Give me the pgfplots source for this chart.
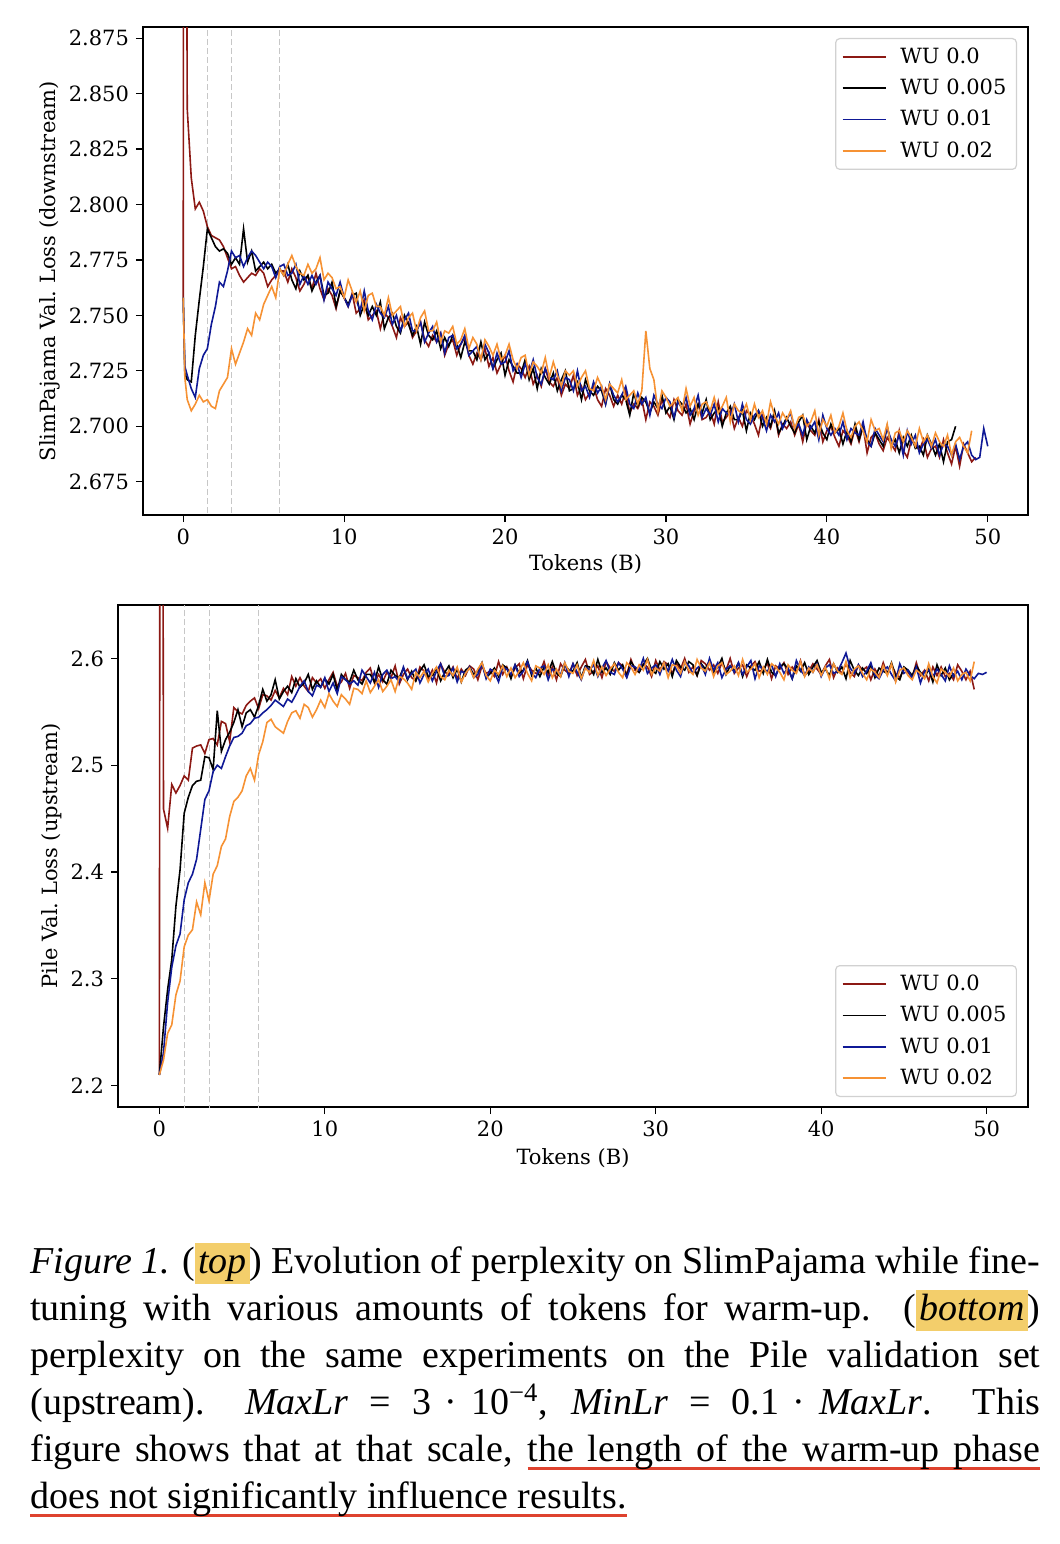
\documentclass[border=0pt]{standalone}
\usepackage{fontspec}
\setmainfont{Liberation Serif}
\newfontfamily\dvs{DejaVu Serif}
\usepackage{xcolor}
\usepackage{pgfplots}
\usepackage{pgfplotstable}
\pgfplotsset{compat=1.18}

\definecolor{wured}{RGB}{140,25,20}
\definecolor{wublue}{RGB}{15,25,150}
\definecolor{wuorange}{RGB}{246,146,52}
\definecolor{hly}{RGB}{243,206,107}
\definecolor{ulred}{RGB}{222,66,46}

\newcommand\cf{\dvs\fontsize{10.5pt}{12.6pt}\selectfont}
\newcommand\hlbox[1]{{\setlength{\fboxsep}{0pt}\colorbox{hly}{\rule[-5.5pt]{0pt}{20.5pt}\hspace{1.5pt}#1\hspace{1.5pt}}}}
\newcommand\ulw[1]{\leavevmode\setbox0\hbox{#1}\rlap{\color{ulred}\rule[-4.6pt]{\wd0}{1.6pt}}\box0}
\newcommand\uls{{\color{ulred}\leaders\hrule height -3pt depth 4.6pt\hskip\fontdimen2\font plus\fontdimen3\font minus\fontdimen4\font}}
\newcommand\eqsp{\nobreak\hspace{0.28em plus 0.12em minus 0.05em}\nobreak}
\newcommand\dotsp{\nobreak\hspace{0.22em plus 0.06em}\nobreak}

\pgfplotstableread{
x r k b o
0 2.758 2.758 2.758 2.758
0.02 2.950 nan nan nan
0.1 nan 2.724 2.727 2.722
0.2 2.950 nan nan nan
0.25 2.843 2.721 2.723 2.712
0.5 2.812 2.720 2.717 2.707
0.75 2.798 2.741 2.713 2.710
1 2.801 2.757 2.726 2.714
1.25 2.797 2.772 2.732 2.711
1.5 2.790 2.789 2.735 2.712
1.75 2.786 2.785 2.746 2.709
2 2.785 2.781 2.754 2.708
2.25 2.784 2.779 2.765 2.716
2.5 2.781 2.780 2.763 2.719
2.75 2.776 2.778 2.770 2.722
3 2.771 2.773 2.779 2.735
3.25 2.772 2.776 2.776 2.728
3.5 2.768 2.773 2.777 2.733
3.75 2.765 2.789 2.772 2.738
4 2.767 2.774 2.776 2.744
4.25 2.769 2.779 2.779 2.741
4.5 2.768 2.770 2.777 2.751
4.75 2.771 2.772 2.774 2.748
5 2.769 2.774 2.771 2.755
5.25 2.763 2.771 2.774 2.759
5.5 2.766 2.773 2.772 2.763
5.75 2.768 2.769 2.767 2.758
6 2.770 2.771 2.772 2.771
6.25 2.770 2.768 2.773 2.768
6.5 2.765 2.773 2.768 2.773
6.75 2.771 2.766 2.769 2.777
7 2.767 2.762 2.773 2.772
7.25 2.761 2.770 2.764 2.769
7.5 2.764 2.766 2.768 2.768
7.75 2.768 2.768 2.764 2.773
8 2.762 2.761 2.768 2.769
8.25 2.769 2.765 2.764 2.771
8.5 2.762 2.768 2.768 2.776
8.75 2.757 2.759 2.757 2.766
9 2.762 2.760 2.765 2.769
9.25 2.759 2.765 2.762 2.767
9.5 2.753 2.754 2.759 2.762
9.75 2.761 2.761 2.765 2.763
10 2.758 2.758 2.758 2.758
10.25 2.754 2.755 2.754 2.766
10.5 2.760 2.759 2.759 2.761
10.75 2.751 2.760 2.757 2.756
11 2.753 2.750 2.752 2.761
11.25 2.757 2.755 2.761 2.752
11.5 2.748 2.750 2.752 2.759
11.75 2.750 2.754 2.748 2.760
12 2.752 2.750 2.755 2.754
12.25 2.744 2.756 2.751 2.754
12.5 2.751 2.744 2.749 2.750
12.75 2.749 2.749 2.754 2.758
13 2.745 2.751 2.746 2.750
13.25 2.740 2.745 2.750 2.752
13.5 2.749 2.742 2.743 2.754
13.75 2.745 2.750 2.748 2.745
14 2.747 2.746 2.751 2.749
14.25 2.740 2.741 2.743 2.751
14.5 2.743 2.745 2.743 2.743
14.75 2.747 2.737 2.747 2.749
15 2.739 2.747 2.738 2.752
15.25 2.736 2.741 2.742 2.743
15.5 2.741 2.739 2.745 2.743
15.75 2.738 2.743 2.738 2.747
16 2.742 2.735 2.742 2.738
16.25 2.732 2.740 2.733 2.743
16.5 2.737 2.736 2.740 2.742
16.75 2.739 2.741 2.741 2.745
17 2.732 2.737 2.735 2.737
17.25 2.737 2.731 2.737 2.739
17.5 2.740 2.738 2.741 2.744
17.75 2.732 2.734 2.732 2.735
18 2.728 2.734 2.734 2.740
18.25 2.733 2.730 2.736 2.737
18.5 2.730 2.738 2.730 2.730
18.75 2.735 2.730 2.737 2.739
19 2.727 2.733 2.733 2.736
19.25 2.731 2.726 2.726 2.732
19.5 2.724 2.730 2.733 2.737
19.75 2.728 2.733 2.728 2.730
20 2.732 2.723 2.729 2.732
20.25 2.725 2.730 2.734 2.737
20.5 2.720 2.727 2.725 2.730
20.75 2.728 2.724 2.728 2.726
21 2.726 2.724 2.722 2.731
21.25 2.722 2.730 2.728 2.732
21.5 2.727 2.721 2.724 2.723
21.75 2.719 2.726 2.730 2.729
22 2.723 2.717 2.722 2.727
22.25 2.718 2.726 2.719 2.724
22.5 2.726 2.722 2.726 2.731
22.75 2.720 2.719 2.722 2.722
23 2.718 2.724 2.721 2.729
23.25 2.722 2.716 2.725 2.723
23.5 2.714 2.721 2.716 2.718
23.75 2.719 2.725 2.722 2.725
24 2.717 2.716 2.721 2.723
24.25 2.723 2.717 2.716 2.725
24.5 2.714 2.720 2.725 2.718
24.75 2.718 2.712 2.716 2.722
25 2.712 2.721 2.718 2.725
25.25 2.715 2.716 2.713 2.717
25.5 2.718 2.714 2.720 2.716
25.75 2.712 2.718 2.715 2.722
26 2.709 2.716 2.718 2.718
26.25 2.717 2.710 2.710 2.712
26.5 2.714 2.719 2.719 2.719
26.75 2.709 2.712 2.714 2.717
27 2.714 2.710 2.711 2.715
27.25 2.710 2.714 2.714 2.721
27.5 2.716 2.712 2.718 2.712
27.75 2.706 2.705 2.710 2.714
28 2.710 2.715 2.708 2.716
28.25 2.708 2.709 2.715 2.710
28.5 2.712 2.713 2.710 2.716
28.75 2.703 2.711 2.713 2.743
29 2.711 2.706 2.705 2.726
29.25 2.709 2.711 2.714 2.721
29.5 2.705 2.708 2.710 2.707
29.75 2.712 2.714 2.708 2.716
30 2.707 2.706 2.713 2.713
30.25 2.704 2.709 2.711 2.709
30.5 2.712 2.703 2.704 2.711
30.75 2.707 2.712 2.711 2.713
31 2.705 2.710 2.708 2.707
31.25 2.710 2.706 2.713 2.717
31.5 2.701 2.708 2.705 2.709
31.75 2.707 2.703 2.708 2.713
32 2.710 2.710 2.714 2.705
32.25 2.703 2.706 2.704 2.710
32.5 2.704 2.712 2.708 2.711
32.75 2.707 2.703 2.705 2.707
33 2.701 2.706 2.710 2.713
33.25 2.711 2.708 2.702 2.706
33.5 2.702 2.700 2.708 2.709
33.75 2.704 2.706 2.706 2.713
34 2.707 2.709 2.705 2.702
34.25 2.699 2.703 2.710 2.710
34.5 2.704 2.703 2.702 2.707
34.75 2.700 2.707 2.710 2.706
35 2.707 2.698 2.703 2.710
35.25 2.705 2.706 2.701 2.703
35.5 2.701 2.703 2.705 2.710
35.75 2.696 2.707 2.707 2.704
36 2.705 2.700 2.704 2.707
36.25 2.702 2.704 2.698 2.701
36.5 2.699 2.700 2.705 2.711
36.75 2.706 2.707 2.702 2.705
37 2.696 2.697 2.706 2.701
37.25 2.701 2.700 2.699 2.706
37.5 2.699 2.704 2.703 2.703
37.75 2.702 2.700 2.706 2.707
38 2.696 2.697 2.699 2.699
38.25 2.701 2.702 2.701 2.704
38.5 2.693 2.705 2.696 2.705
38.75 2.702 2.694 2.703 2.700
39 2.698 2.700 2.699 2.702
39.25 2.696 2.697 2.702 2.707
39.5 2.703 2.702 2.694 2.696
39.75 2.693 2.697 2.705 2.703
40 2.698 2.694 2.699 2.700
40.25 2.700 2.701 2.696 2.705
40.5 2.695 2.697 2.699 2.697
40.75 2.691 2.699 2.696 2.700
41 2.698 2.692 2.702 2.706
41.25 2.696 2.698 2.694 2.698
41.5 2.692 2.693 2.699 2.695
41.75 2.699 2.701 2.697 2.700
42 2.693 2.694 2.696 2.702
42.25 2.700 2.700 2.702 2.698
42.5 2.688 2.694 2.693 2.693
42.75 2.695 2.691 2.691 2.703
43 2.697 2.697 2.699 2.698
43.25 2.692 2.694 2.696 2.699
43.5 2.689 2.691 2.693 2.694
43.75 2.695 2.700 2.699 2.701
44 2.692 2.691 2.694 2.690
44.25 2.689 2.694 2.691 2.697
44.5 2.698 2.688 2.696 2.698
44.75 2.689 2.695 2.687 2.693
45 2.686 2.691 2.698 2.698
45.25 2.694 2.696 2.692 2.695
45.5 2.692 2.690 2.696 2.691
45.75 2.689 2.691 2.688 2.699
46 2.694 2.687 2.692 2.693
46.25 2.686 2.696 2.694 2.696
46.5 2.690 2.692 2.690 2.691
46.75 2.691 2.687 2.694 2.697
47 2.686 2.692 2.687 2.693
47.25 2.694 2.684 2.692 2.691
47.5 2.688 2.693 2.691 2.696
47.75 2.683 2.694 2.687 2.687
48 2.691 2.700 2.692 2.693
48.25 2.682 nan 2.685 2.695
48.5 2.692 nan 2.691 2.691
48.75 2.688 nan 2.693 2.688
49 2.684 nan 2.687 2.698
49.25 2.686 nan 2.685 nan
49.5 nan nan 2.686 nan
49.75 nan nan 2.699 nan
50 nan nan 2.691 nan
}\toptab

\pgfplotstableread{
x r k b o
0 2.210 2.210 2.210 2.210
0.04 2.900 nan nan nan
0.2 2.900 nan nan nan
0.25 2.459 2.255 2.231 2.224
0.5 2.441 2.290 2.278 2.249
0.75 2.482 2.318 2.311 2.257
1 2.474 2.368 2.331 2.285
1.25 2.481 2.402 2.342 2.298
1.5 2.490 2.455 2.374 2.330
1.75 2.486 2.470 2.390 2.341
2 2.516 2.481 2.398 2.346
2.25 2.518 2.485 2.412 2.372
2.5 2.519 2.486 2.440 2.360
2.75 2.511 2.508 2.468 2.390
3 2.524 2.507 2.476 2.373
3.25 2.525 2.496 2.494 2.398
3.5 2.519 2.551 2.500 2.406
3.75 2.541 2.513 2.497 2.424
4 2.539 2.524 2.508 2.431
4.25 2.522 2.531 2.518 2.452
4.5 2.554 2.540 2.526 2.466
4.75 2.550 2.552 2.527 2.470
5 2.548 2.536 2.530 2.476
5.25 2.556 2.549 2.537 2.490
5.5 2.560 2.552 2.539 2.497
5.75 2.563 2.545 2.544 2.486
6 2.553 2.556 2.545 2.510
6.25 2.566 2.571 2.549 2.522
6.5 2.565 2.560 2.552 2.540
6.75 2.561 2.566 2.556 2.543
7 2.570 2.580 2.561 2.536
7.25 2.563 2.562 2.558 2.533
7.5 2.572 2.569 2.555 2.530
7.75 2.566 2.574 2.562 2.541
8 2.583 2.568 2.559 2.549
8.25 2.574 2.581 2.566 2.551
8.5 2.582 2.573 2.574 2.544
8.75 2.574 2.577 2.579 2.557
9 2.569 2.585 2.569 2.554
9.25 2.582 2.571 2.565 2.545
9.5 2.577 2.579 2.575 2.552
9.75 2.581 2.573 2.573 2.561
10 2.572 2.581 2.582 2.554
10.25 2.580 2.576 2.569 2.567
10.5 2.587 2.585 2.577 2.560
10.75 2.574 2.570 2.567 2.555
11 2.578 2.585 2.583 2.566
11.25 2.586 2.580 2.580 2.562
11.5 2.572 2.578 2.576 2.557
11.75 2.584 2.589 2.579 2.572
12 2.582 2.580 2.575 2.571
12.25 2.579 2.576 2.589 2.567
12.5 2.587 2.585 2.583 2.579
12.75 2.591 2.585 2.577 2.568
13 2.577 2.578 2.587 2.574
13.25 2.585 2.592 2.573 2.580
13.5 2.578 2.580 2.585 2.569
13.75 2.587 2.576 2.589 2.574
14 2.582 2.589 2.581 2.580
14.25 2.593 2.584 2.583 2.569
14.5 2.576 2.582 2.578 2.583
14.75 2.585 2.591 2.592 2.581
15 2.590 2.580 2.581 2.577
15.25 2.582 2.588 2.586 2.571
15.5 2.579 2.579 2.590 2.587
15.75 2.592 2.588 2.577 2.582
16 2.588 2.594 2.585 2.588
16.25 2.581 2.583 2.590 2.578
16.5 2.589 2.584 2.579 2.586
16.75 2.577 2.591 2.588 2.592
17 2.595 2.579 2.595 2.583
17.25 2.587 2.587 2.583 2.580
17.5 2.585 2.593 2.584 2.589
17.75 2.592 2.582 2.591 2.584
18 2.581 2.590 2.578 2.592
18.25 2.590 2.578 2.588 2.578
18.5 2.584 2.589 2.586 2.586
18.75 2.593 2.592 2.592 2.591
19 2.590 2.585 2.582 2.582
19.25 2.580 2.588 2.585 2.590
19.5 2.593 2.596 2.595 2.596
19.75 2.586 2.582 2.581 2.584
20 2.588 2.586 2.590 2.579
20.25 2.583 2.591 2.587 2.589
20.5 2.597 2.583 2.578 2.585
20.75 2.585 2.594 2.592 2.593
21 2.592 2.591 2.590 2.583
21.25 2.583 2.581 2.585 2.591
21.5 2.591 2.594 2.594 2.582
21.75 2.595 2.586 2.583 2.588
22 2.581 2.589 2.588 2.596
22.25 2.594 2.598 2.597 2.586
22.5 2.589 2.584 2.586 2.579
22.75 2.586 2.591 2.582 2.593
23 2.587 2.583 2.591 2.591
23.25 2.597 2.592 2.593 2.585
23.5 2.584 2.587 2.580 2.594
23.75 2.592 2.597 2.590 2.582
24 2.580 2.586 2.588 2.590
24.25 2.595 2.583 2.585 2.583
24.5 2.589 2.594 2.596 2.596
24.75 2.586 2.589 2.583 2.588
25 2.595 2.588 2.595 2.586
25.25 2.584 2.596 2.587 2.594
25.5 2.592 2.582 2.580 2.581
25.75 2.599 2.593 2.592 2.591
26 2.585 2.592 2.589 2.587
26.25 2.588 2.585 2.594 2.598
26.5 2.593 2.599 2.583 2.584
26.75 2.582 2.587 2.591 2.592
27 2.597 2.591 2.598 2.584
27.25 2.591 2.585 2.587 2.590
27.5 2.588 2.596 2.585 2.595
27.75 2.596 2.589 2.596 2.587
28 2.593 2.594 2.590 2.582
28.25 2.585 2.583 2.582 2.596
28.5 2.599 2.597 2.593 2.592
28.75 2.589 2.591 2.592 2.585
29 2.587 2.587 2.589 2.594
29.25 2.595 2.594 2.600 2.589
29.5 2.592 2.600 2.586 2.599
29.75 2.583 2.589 2.591 2.585
30 2.598 2.586 2.594 2.591
30.25 2.589 2.597 2.585 2.588
30.5 2.597 2.590 2.596 2.596
30.75 2.594 2.595 2.588 2.582
31 2.586 2.583 2.599 2.594
31.25 2.595 2.598 2.589 2.593
31.5 2.590 2.592 2.583 2.586
31.75 2.600 2.589 2.597 2.597
32 2.587 2.597 2.593 2.589
32.25 2.592 2.594 2.586 2.585
32.5 2.584 2.584 2.591 2.599
32.75 2.598 2.595 2.594 2.591
33 2.595 2.590 2.585 2.588
33.25 2.589 2.598 2.600 2.596
33.5 2.594 2.587 2.589 2.583
33.75 2.586 2.592 2.596 2.593
34 2.596 2.600 2.582 2.596
34.25 2.589 2.585 2.590 2.585
34.5 2.600 2.593 2.593 2.588
34.75 2.586 2.588 2.587 2.593
35 2.591 2.596 2.596 2.584
35.25 2.594 2.583 2.585 2.599
35.5 2.583 2.594 2.592 2.587
35.75 2.593 2.591 2.598 2.590
36 2.597 2.589 2.581 2.595
36.25 2.588 2.597 2.593 2.582
36.5 2.589 2.586 2.590 2.592
36.75 2.596 2.599 2.588 2.585
37 2.581 2.587 2.594 2.595
37.25 2.593 2.584 2.583 2.592
37.5 2.590 2.592 2.595 2.587
37.75 2.596 2.595 2.586 2.580
38 2.585 2.590 2.591 2.594
38.25 2.592 2.581 2.581 2.589
38.5 2.587 2.593 2.598 2.586
38.75 2.598 2.588 2.589 2.597
39 2.584 2.596 2.584 2.583
39.25 2.588 2.585 2.592 2.591
39.5 2.595 2.592 2.587 2.587
39.75 2.590 2.598 2.595 2.594
40 2.585 2.587 2.583 2.584
40.25 2.593 2.590 2.591 2.592
40.5 2.599 2.584 2.594 2.581
40.75 2.582 2.595 2.586 2.595
41 2.591 2.587 2.588 2.588
41.25 2.586 2.592 2.596 2.585
41.5 2.595 2.581 2.605 2.597
41.75 2.587 2.598 2.591 2.582
42 2.583 2.589 2.586 2.590
42.25 2.594 2.584 2.594 2.593
42.5 2.589 2.591 2.583 2.586
42.75 2.592 2.586 2.588 2.580
43 2.580 2.594 2.596 2.590
43.25 2.590 2.582 2.584 2.587
43.5 2.583 2.591 2.581 2.582
43.75 2.596 2.588 2.589 2.593
44 2.585 2.586 2.592 2.584
44.25 2.594 2.596 2.585 2.595
44.5 2.586 2.583 2.579 2.578
44.75 2.582 2.580 2.595 2.589
45 2.590 2.592 2.586 2.591
45.25 2.587 2.589 2.589 2.584
45.5 2.582 2.584 2.581 2.580
45.75 2.596 2.593 2.592 2.589
46 2.584 2.587 2.577 2.586
46.25 2.589 2.582 2.588 2.581
46.5 2.579 2.590 2.589 2.595
46.75 2.592 2.578 2.583 2.583
47 2.584 2.594 2.590 2.577
47.25 2.592 2.584 2.585 2.590
47.5 2.583 2.591 2.579 2.587
47.75 2.586 2.580 2.593 2.583
48 2.580 2.586 2.583 2.591
48.25 2.594 nan 2.588 2.579
48.5 2.588 nan 2.580 2.585
48.75 2.580 nan 2.590 2.587
49 2.588 nan 2.584 2.579
49.25 2.571 nan 2.581 2.597
49.5 nan nan 2.586 nan
49.75 nan nan 2.585 nan
50 nan nan 2.587 nan
}\bottab

\pgfplotsset{
  myax/.style={
    scale only axis,
    xmin=-2.5, xmax=52.5,
    axis line style={line width=0.6pt},
    tick align=outside, tick pos=left,
    major tick length=3.5pt,
    every tick/.style={black, line width=0.6pt},
    xtick={0,10,20,30,40,50},
    ticklabel style={font=\cf},
    label style={font=\cf},
    /pgf/number format/assume math mode=true,
    unbounded coords=discard,
    legend cell align=left,
    legend image code/.code={\draw[#1] (0pt,0pt) -- (21.5pt,0pt);},
    legend style={draw=black!18, line width=0.6pt, rounded corners=2pt, font=\cf,
      inner xsep=3pt, inner ysep=2.5pt, row sep=2.4pt, fill=white,
      /tikz/every odd column/.append style={column sep=5pt}},
    every axis plot/.append style={line width=0.8pt},
    xlabel={Tokens (B)},
  },
  vline/.style={black!22, dash pattern=on 3pt off 1.5pt, line width=0.5pt, forget plot},
}

\begin{document}
\begin{tikzpicture}
\useasboundingbox (0,0) rectangle (530pt,-772pt);

\begin{axis}[myax,
  at={(71.5pt,-257.5pt)}, anchor=south west,
  width=442.5pt, height=244pt,
  ymin=2.660, ymax=2.880,
  ytick={2.675,2.700,2.725,2.750,2.775,2.800,2.825,2.850,2.875},
  yticklabel style={/pgf/number format/.cd, fixed, fixed zerofill, precision=3},
  ylabel={SlimPajama Val.\ Loss (downstream)},
  ylabel style={at={(axis description cs:-0.105,0.5)}, anchor=center},
  xlabel style={at={(axis description cs:0.5,-0.1004)}, anchor=center},
  legend style={at={(axis description cs:0.9876,0.9775)}, anchor=north east},
]
\addplot[vline] coordinates {(1.5,2.6) (1.5,2.9)};
\addplot[vline] coordinates {(3,2.6) (3,2.9)};
\addplot[vline] coordinates {(6,2.6) (6,2.9)};
\addplot[wured] table[x=x,y=r]{\toptab};
\addplot[black] table[x=x,y=k]{\toptab};
\addplot[wublue] table[x=x,y=b]{\toptab};
\addplot[wuorange] table[x=x,y=o]{\toptab};
\legend{WU 0.0, WU 0.005, WU 0.01, WU 0.02}
\end{axis}

\begin{axis}[myax,
  at={(59pt,-553.5pt)}, anchor=south west,
  width=455pt, height=251pt,
  ymin=2.180, ymax=2.650,
  ytick={2.2,2.3,2.4,2.5,2.6},
  yticklabel style={/pgf/number format/.cd, fixed, fixed zerofill, precision=1},
  ylabel={Pile Val.\ Loss (upstream)},
  ylabel style={at={(axis description cs:-0.0725,0.5)}, anchor=center},
  xlabel style={at={(axis description cs:0.5,-0.1016)}, anchor=center},
  legend style={at={(axis description cs:0.9879,0.0199)}, anchor=south east},
]
\addplot[vline] coordinates {(1.5,2.1) (1.5,2.7)};
\addplot[vline] coordinates {(3,2.1) (3,2.7)};
\addplot[vline] coordinates {(6,2.1) (6,2.7)};
\addplot[wured] table[x=x,y=r]{\bottab};
\addplot[black] table[x=x,y=k]{\bottab};
\addplot[wublue] table[x=x,y=b]{\bottab};
\addplot[wuorange] table[x=x,y=o]{\bottab};
\legend{WU 0.0, WU 0.005, WU 0.01, WU 0.02}
\end{axis}

\node[anchor=base west, inner sep=0pt, text width=505pt, align=justify,
  font=\fontsize{19pt}{23.5pt}\selectfont] at (15pt,-636.5pt) {%
\textit{Figure 1.} (\hlbox{\textit{top}}) Evolution of perplexity on SlimPajama while fine-\linebreak
tuning with various amounts of tokens for warm-up.\ \ (\hlbox{\textit{bottom}})\linebreak
perplexity on the same experiments on the Pile validation set\linebreak
(upstream).\ \ \textit{MaxLr}\eqsp=\eqsp3\dotsp·\dotsp10\textsuperscript{−4}, \textit{MinLr}\eqsp=\eqsp0.1\dotsp·\dotsp\textit{MaxLr}.\ \ This\linebreak
figure shows that at that scale, \ulw{the}\uls\ulw{length}\uls\ulw{of}\uls\ulw{the}\uls\ulw{warm-up}\uls\ulw{phase}\linebreak
\ulw{does}\uls\ulw{not}\uls\ulw{significantly}\uls\ulw{influence}\uls\ulw{results.}};
\end{tikzpicture}
\end{document}
